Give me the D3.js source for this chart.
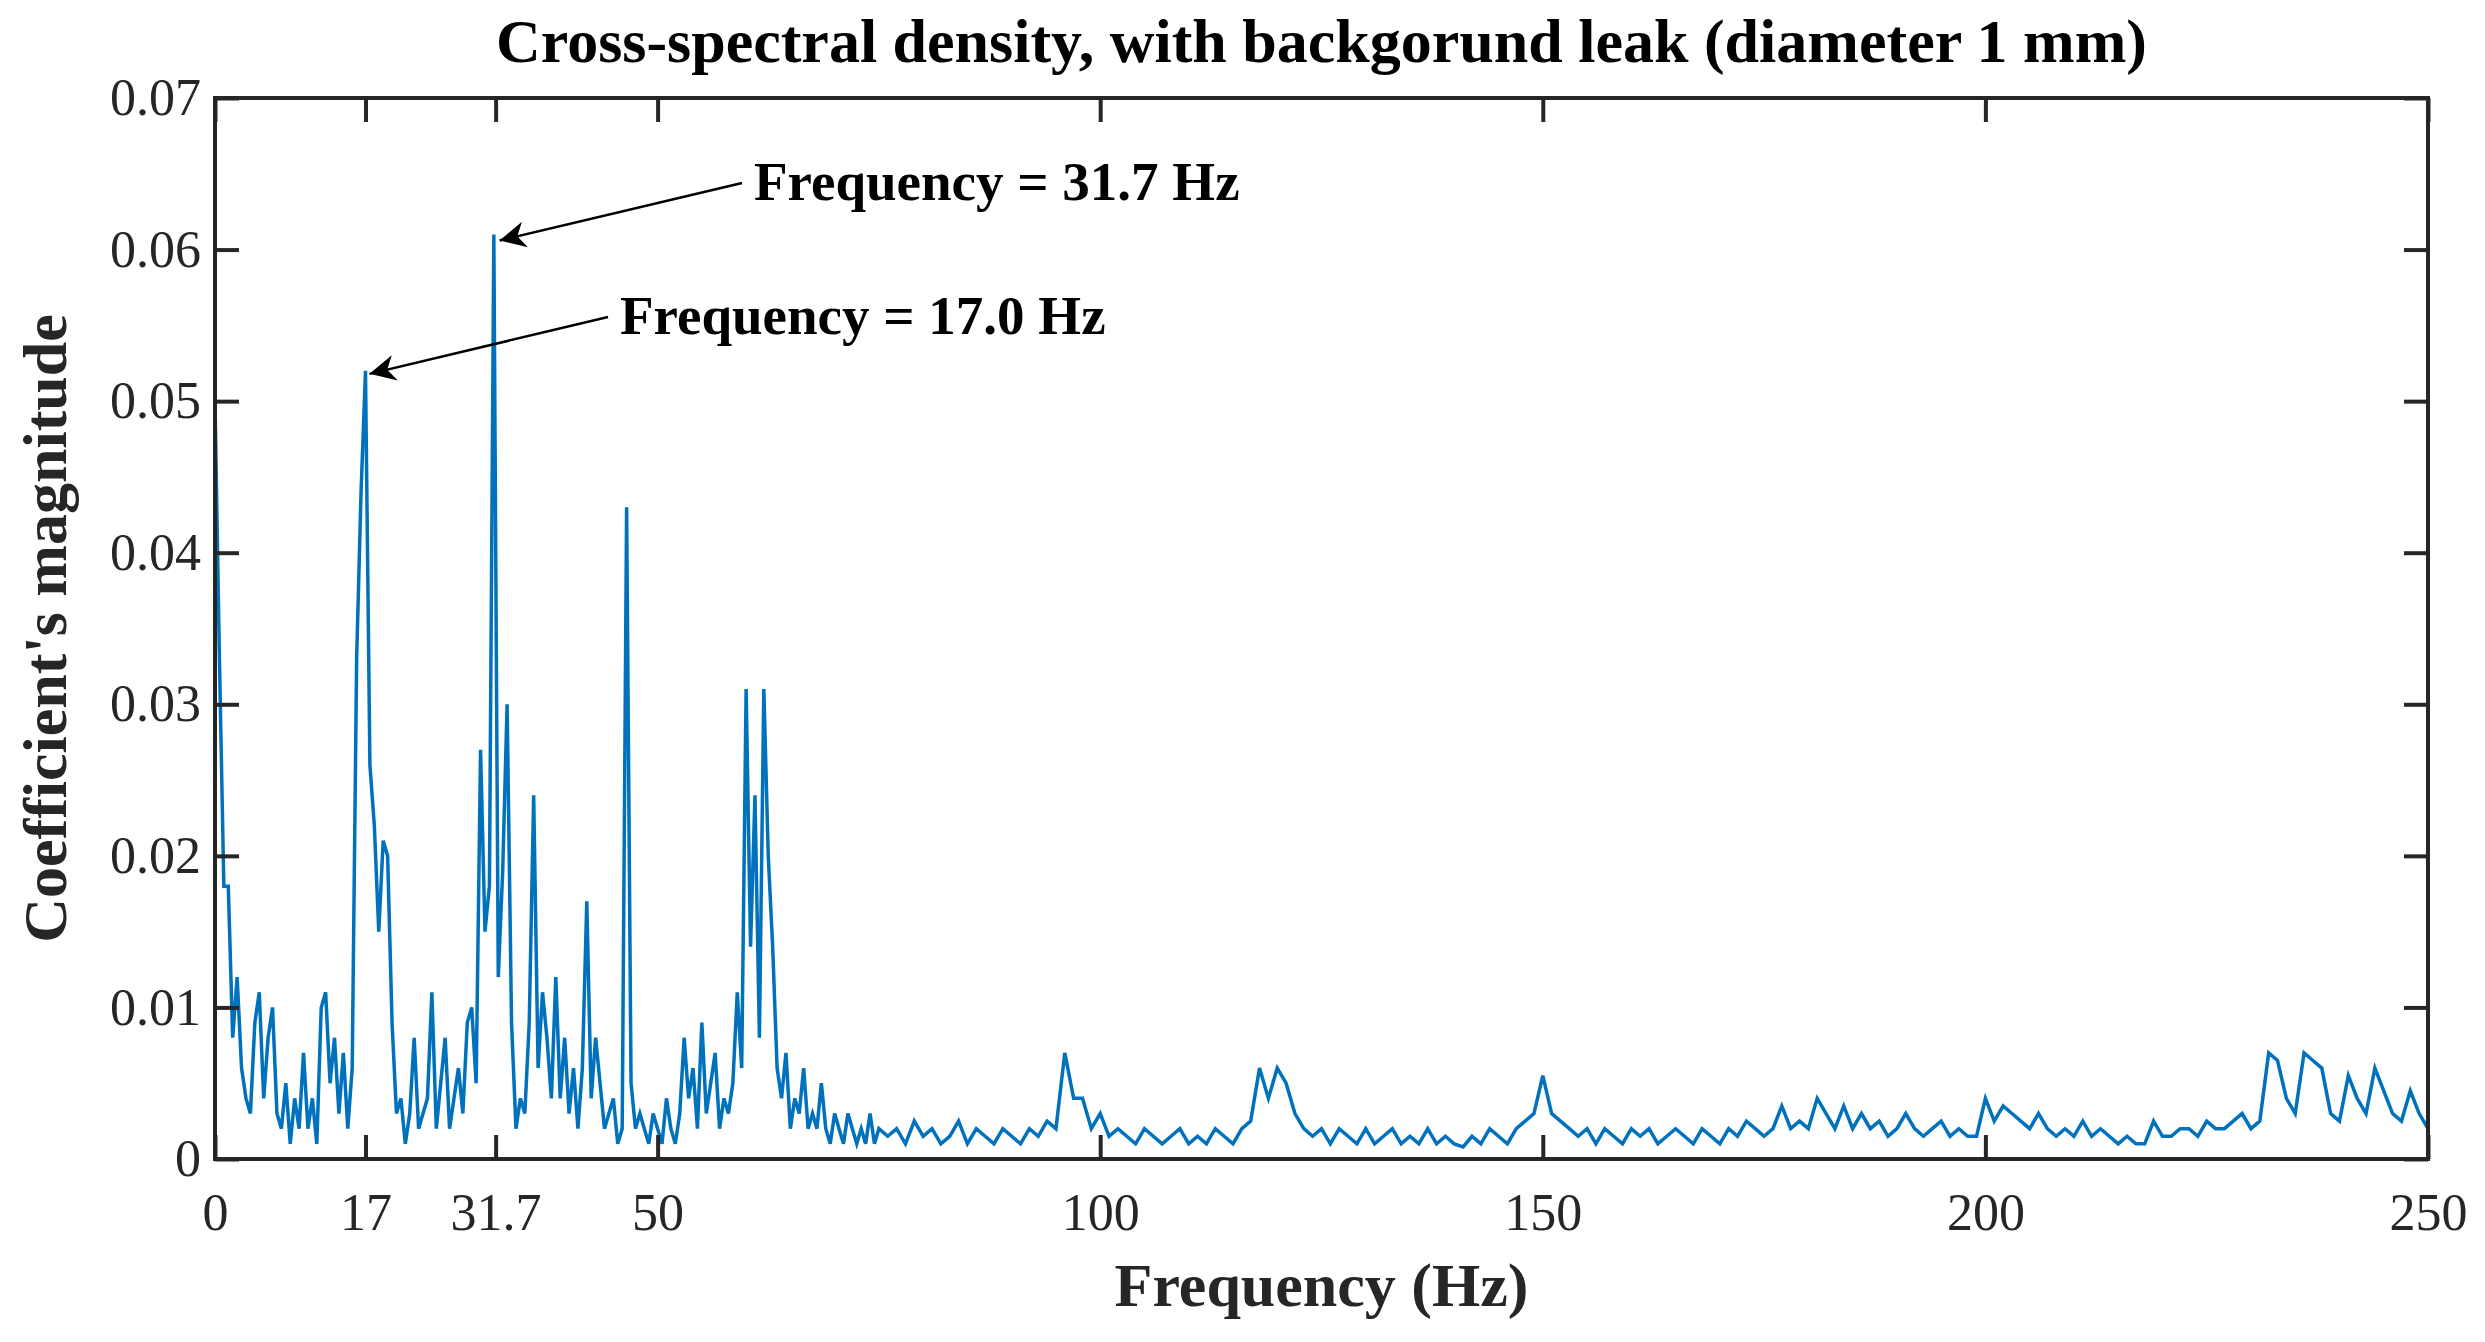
<!DOCTYPE html>
<html><head><meta charset="utf-8">
<script src="https://cdn.jsdelivr.net/npm/d3@7"></script>
<style>body{margin:0;background:#fff}svg{font-family:"Liberation Serif",serif}</style>
</head><body><svg id="c" width="2485" height="1342"></svg>
<script>
// magnitudes in units of 0.001
const lowStart = 0, lowStep = 0.5;
const lowMag = [50,33,18,18,8,12,6,4,3,9,11,4,8,10,3,2,5,1,4,2,7,2,4,1,10,11,5,8,3,7,2,6,33,44,52,26,22,15,21,20,9,3,4,1,3,8,2,3,4,11,2,5,8,2,4,6,3,9,10,5,27,15,18,61,12,19,30,9,2,4,3,9,24,6,11,8,4,12,4,8,3,6,2,6,17,4,8,5,2,3,4,1,2,43,5,2,3,2,1,3,2,1,4,2,1,3,8,4,6,2,9,3,5,7,2,4,3,5,11,6,31,14,24,8,31,20,14,6,4,7,2,4,3,6,2,3,2,5,2,1,3,2,1,3,2,1,2,1,3,1,2];
const highStart = 76, highStep = 1;
const highMag = [1.5,2,1,2.5,1.5,2,1,1.5,2.5,1,2,1.5,1,2,1.5,1,2,1.5,2.5,2,
7,4,4,2,3,1.5,2,1.5,1,2,1.5,1,1.5,2,1,1.5,1,2,1.5,1,2,2.5,
6,4,6,5,3,2,1.5,2,1,2,1.5,1,2,1,1.5,2,1,1.5,1,2,1,1.5,1,0.8,1.5,1,2,1.5,1,2,2.5,3,
5.5,3,2.5,2,1.5,2,1,2,1.5,1,2,1.5,2,1,1.5,2,1.5,1,2,1.5,1,2,1.5,2.5,2,1.5,2,
3.5,2,2.5,2,4,3,2,3.5,2,3,2,2.5,1.5,2,3,2,1.5,2,2.5,1.5,2,1.5,1.5,
4,2.5,3.5,3,2.5,2,3,2,1.5,2,1.5,2.5,1.5,2,1.5,1,1.5,1,1,2.5,1.5,1.5,2,2,1.5,2.5,2,2,2.5,3,2,2.5,
7,6.5,4,3,7,6.5,6,3,2.5,5.5,4,3,6,4.5,3,2.5,4.5,3,2];
const xTicks = [0,17,31.7,50,100,150,200,250];
const yTicks = [0,10,20,30,40,50,60,70];
const yTickLabels = ["0","0.01","0.02","0.03","0.04","0.05","0.06","0.07"];
const notes = [{f:31.7,m:60.6,label:"Frequency = 31.7 Hz",tx:754,ty:200},{f:17,m:51.8,label:"Frequency = 17.0 Hz",tx:620,ty:334}];

const pts = lowMag.map((m,i)=>[lowStart+i*lowStep,m]).concat(highMag.map((m,i)=>[highStart+i*highStep,m]));
const L=215,R=2428,T=98,B=1159;
const x=d3.scaleLinear().domain([0,250]).range([L,R]);
const y=d3.scaleLinear().domain([0,70]).range([B,T]);
const svg=d3.select("#c");
svg.append("defs").append("marker").attr("id","ah").attr("viewBox","0 0 10 10").attr("refX",10).attr("refY",5)
 .attr("markerWidth",40).attr("markerHeight",26).attr("markerUnits","userSpaceOnUse").attr("orient","auto")
 .append("path").attr("d","M0,0L10,5L0,10L3,5z").attr("fill","#000");
svg.append("path").datum(pts).attr("fill","none").attr("stroke","#0072BD").attr("stroke-width",3.5)
 .attr("d",d3.line().x(d=>x(d[0])).y(d=>y(d[1])));
const ax=(g,a)=>g.call(a).call(s=>{s.attr("font-family","Liberation Serif, serif");s.select(".domain").remove();s.selectAll("line").attr("stroke","#262626").attr("stroke-width",4);s.selectAll("text").attr("fill","#262626").attr("font-size",52);});
svg.append("g").attr("transform",`translate(0,${B})`).call(g=>ax(g,d3.axisBottom(x).tickValues(xTicks).tickSize(-24).tickPadding(34).tickFormat(d=>String(d))));
svg.append("g").attr("transform",`translate(0,${T})`).call(g=>ax(g,d3.axisTop(x).tickValues(xTicks).tickSize(-24).tickFormat("")));
svg.append("g").attr("transform",`translate(${L},0)`).call(g=>ax(g,d3.axisLeft(y).tickValues(yTicks).tickSize(-24).tickPadding(14).tickFormat((d,i)=>yTickLabels[i])));
svg.append("g").attr("transform",`translate(${R},0)`).call(g=>ax(g,d3.axisRight(y).tickValues(yTicks).tickSize(-24).tickFormat("")));
svg.append("rect").attr("x",L).attr("y",T).attr("width",R-L).attr("height",B-T).attr("fill","none").attr("stroke","#262626").attr("stroke-width",4);
svg.append("text").attr("x",(L+R)/2).attr("y",62).attr("text-anchor","middle").attr("font-weight","bold").attr("font-size",62).text("Cross-spectral density, with backgorund leak (diameter 1 mm)");
svg.append("text").attr("x",(L+R)/2).attr("y",1306).attr("text-anchor","middle").attr("font-weight","bold").attr("font-size",62).attr("fill","#262626").text("Frequency (Hz)");
svg.append("text").attr("transform",`translate(66,${(T+B)/2}) rotate(-90)`).attr("text-anchor","middle").attr("font-weight","bold").attr("font-size",62).attr("fill","#262626").text("Coefficient's magnitude");
notes.forEach(n=>{
 svg.append("line").attr("x1",n.tx-12).attr("y1",n.ty-17).attr("x2",x(n.f)+4).attr("y2",y(n.m)).attr("stroke","#000").attr("stroke-width",2.5).attr("marker-end","url(#ah)");
 svg.append("text").attr("x",n.tx).attr("y",n.ty).attr("font-weight","bold").attr("font-size",55).text(n.label);
});
</script></body></html>
